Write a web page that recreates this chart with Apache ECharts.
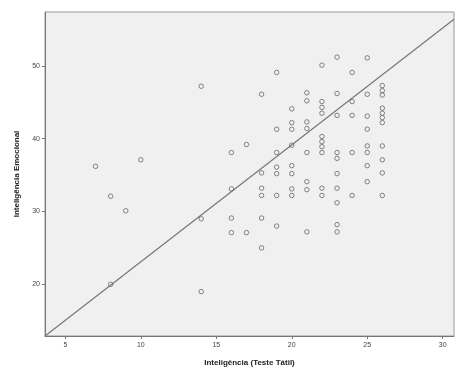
<!DOCTYPE html>
<html>
<head>
<meta charset="utf-8">
<script src="https://cdn.jsdelivr.net/npm/echarts@6/dist/echarts.min.js"></script>
<style>html,body{margin:0;padding:0;background:#fff}#c{width:456px;height:372px}</style>
</head>
<body>
<div id="c"></div>
<script>
var xTicks = [5, 10, 15, 20, 25, 30];
var yTicks = [20, 30, 40, 50];
var xTitle = 'Inteligência (Teste Tátil)';
var yTitle = 'Inteligência Emocional';
var points = [
  [7,36.2],[10,37.1],[8,32.1],[9,30.1],[8,20],[14,47.2],[14,29],[14,19],
  [16,38.1],[16,33.1],[16,29.1],[16,27.1],
  [17,39.2],[17,27.1],
  [18,46.1],[18,35.3],[18,33.2],[18,32.2],[18,29.1],[18,25],
  [19,49.1],[19,41.3],[19,38.1],[19,36.1],[19,35.2],[19,32.2],[19,28],
  [20,44.1],[20,42.2],[20,41.3],[20,39.1],[20,36.3],[20,35.2],[20,33.1],[20,32.2],
  [21,46.3],[21,45.2],[21,42.3],[21,41.4],[21,38.1],[21,34.1],[21,33],[21,27.2],
  [22,50.1],[22,45.1],[22,44.3],[22,43.5],[22,40.3],[22,39.6],[22,38.9],[22,38.1],[22,33.2],[22,32.2],
  [23,51.2],[23,46.2],[23,43.2],[23,38.1],[23,37.3],[23,35.2],[23,33.2],[23,31.2],[23,28.2],[23,27.2],
  [24,49.1],[24,45.1],[24,43.2],[24,38.1],[24,32.2],
  [25,51.1],[25,46.1],[25,43.1],[25,41.3],[25,39],[25,38.1],[25,36.3],[25,34.1],
  [26,47.3],[26,46.6],[26,46],[26,44.2],[26,43.5],[26,42.9],[26,42.2],[26,39],[26,37.1],[26,35.3],[26,32.2]
];
var fitLine = [[3.65,12.9],[30.75,56.4]];
var xRange = [3.65, 30.75];
var yRange = [12.9, 57.4];

var chart = echarts.init(document.getElementById('c'));
var axisFont = {fontFamily:'Liberation Sans', fontSize:7, color:'#444'};
chart.setOption({
  animation:false,
  grid:{left:45, right:2, top:12, bottom:34, show:true, backgroundColor:'#f0f0f0', borderColor:'#999', borderWidth:1},
  xAxis:{
    type:'value', min:xRange[0], max:xRange[1],
    name:xTitle, nameLocation:'middle', nameGap:23,
    nameTextStyle:{fontFamily:'Liberation Sans', fontSize:8, fontWeight:'bold', color:'#222'},
    axisLine:{show:true, lineStyle:{color:'#777'}},
    axisTick:{show:true, length:3, customValues:xTicks, lineStyle:{color:'#777'}},
    axisLabel:Object.assign({customValues:xTicks, margin:6}, axisFont),
    splitLine:{show:false}
  },
  yAxis:{
    type:'value', min:yRange[0], max:yRange[1],
    name:yTitle, nameLocation:'middle', nameGap:24,
    nameTextStyle:{fontFamily:'Liberation Sans', fontSize:8, fontWeight:'bold', color:'#222'},
    axisLine:{show:true, lineStyle:{color:'#777'}},
    axisTick:{show:true, length:3, customValues:yTicks, lineStyle:{color:'#777'}},
    axisLabel:Object.assign({customValues:yTicks, margin:5}, axisFont),
    splitLine:{show:false}
  },
  series:[
    {type:'line', data:fitLine, symbol:'none', lineStyle:{color:'#777', width:1.2}, silent:true, z:1},
    {type:'scatter', data:points, symbol:'circle', symbolSize:4.5,
     itemStyle:{color:'rgba(0,0,0,0)', borderColor:'#666', borderWidth:1}, z:2}
  ]
});
</script>
</body>
</html>
